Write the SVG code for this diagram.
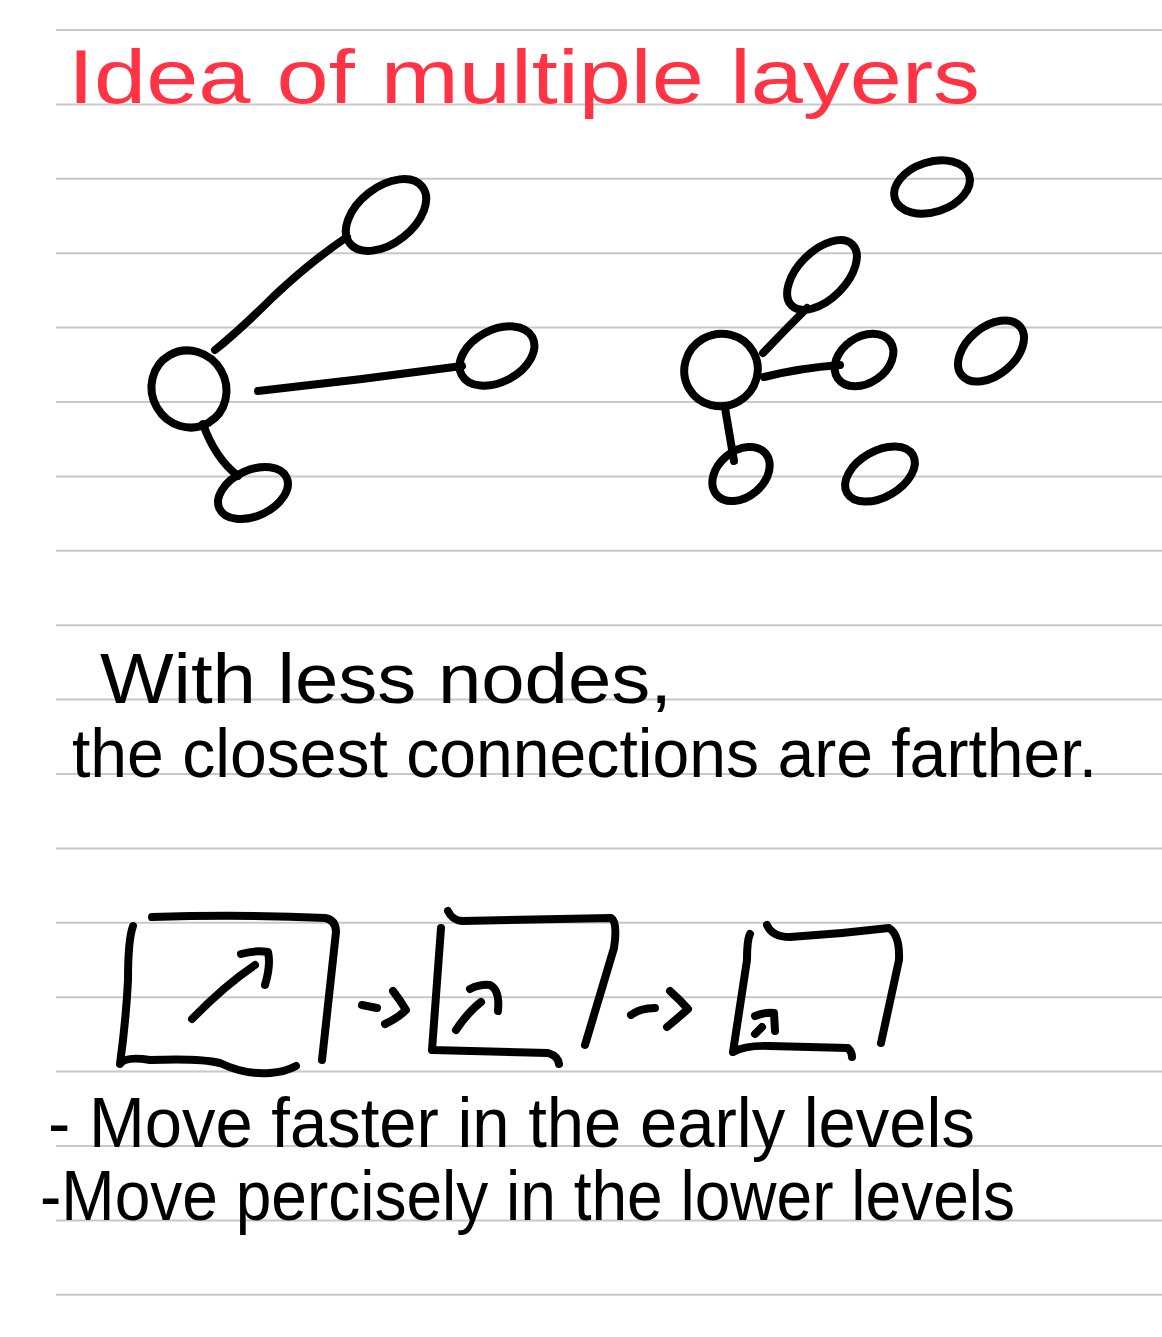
<svg xmlns="http://www.w3.org/2000/svg" width="1162" height="1337" viewBox="0 0 1162 1337">
<style>
.rule{stroke:#c8c8c8;stroke-width:2}
.ink{fill:none;stroke:#000;stroke-width:8;stroke-linecap:round;stroke-linejoin:round}
.txt{font-family:"Liberation Sans","DejaVu Sans",sans-serif;fill:#000}
.title{font-family:"Liberation Sans","DejaVu Sans",sans-serif;fill:#ff3344}
</style>
<rect width="1162" height="1337" fill="#fff"/>
<g id="rules">
<line class="rule" x1="56" y1="30" x2="1162" y2="30"/>
<line class="rule" x1="56" y1="104.4" x2="1162" y2="104.4"/>
<line class="rule" x1="56" y1="178.8" x2="1162" y2="178.8"/>
<line class="rule" x1="56" y1="253.2" x2="1162" y2="253.2"/>
<line class="rule" x1="56" y1="327.6" x2="1162" y2="327.6"/>
<line class="rule" x1="56" y1="402" x2="1162" y2="402"/>
<line class="rule" x1="56" y1="476.4" x2="1162" y2="476.4"/>
<line class="rule" x1="56" y1="550.8" x2="1162" y2="550.8"/>
<line class="rule" x1="56" y1="625.2" x2="1162" y2="625.2"/>
<line class="rule" x1="56" y1="699.6" x2="1162" y2="699.6"/>
<line class="rule" x1="56" y1="774" x2="1162" y2="774"/>
<line class="rule" x1="56" y1="848.4" x2="1162" y2="848.4"/>
<line class="rule" x1="56" y1="922.8" x2="1162" y2="922.8"/>
<line class="rule" x1="56" y1="997.2" x2="1162" y2="997.2"/>
<line class="rule" x1="56" y1="1071.6" x2="1162" y2="1071.6"/>
<line class="rule" x1="56" y1="1146" x2="1162" y2="1146"/>
<line class="rule" x1="56" y1="1220.4" x2="1162" y2="1220.4"/>
<line class="rule" x1="56" y1="1294.8" x2="1162" y2="1294.8"/>
</g>
<g id="title">
<text class="title" x="68" y="103" font-size="76" textLength="912" lengthAdjust="spacingAndGlyphs">Idea of multiple layers</text>
</g>
<g id="left-graph-nodes">
<g id="L-main"><ellipse class="ink" cx="189" cy="389" rx="37" ry="39" transform="rotate(-30 189 389)"/></g>
<g id="L-top"><ellipse class="ink" cx="386" cy="215" rx="46" ry="28" transform="rotate(-38 386 215)"/></g>
<g id="L-right"><ellipse class="ink" cx="497" cy="356" rx="40" ry="26" transform="rotate(-28 497 356)"/></g>
<g id="L-bottom"><ellipse class="ink" cx="253" cy="493" rx="37" ry="23" transform="rotate(-25 253 493)"/></g>
</g>
<g id="right-graph-nodes">
<g id="R-main"><ellipse class="ink" cx="721" cy="370" rx="37" ry="36" transform="rotate(-30 721 370)"/></g>
<g id="R-up"><ellipse class="ink" cx="822" cy="275" rx="43" ry="24" transform="rotate(-45 822 275)"/></g>
<g id="R-top"><ellipse class="ink" cx="932" cy="187" rx="39" ry="25" transform="rotate(-18 932 187)"/></g>
<g id="R-mid"><ellipse class="ink" cx="864" cy="360" rx="32" ry="23" transform="rotate(-35 864 360)"/></g>
<g id="R-far"><ellipse class="ink" cx="991" cy="351" rx="38" ry="24" transform="rotate(-40 991 351)"/></g>
<g id="R-bl"><ellipse class="ink" cx="741" cy="474" rx="32" ry="23" transform="rotate(-40 741 474)"/></g>
<g id="R-bm"><ellipse class="ink" cx="880" cy="474" rx="38" ry="23" transform="rotate(-30 880 474)"/></g>
</g>
<g id="connectors">
<path class="ink" d="M215 350 Q240 330 273 297 Q310 262 347 237"/>
<path class="ink" d="M258 391 Q360 380 462 366"/>
<path class="ink" d="M203 424 Q215 458 238 476"/>
<path class="ink" d="M763 353 Q785 330 807 308"/>
<path class="ink" d="M764 377 Q800 368 840 365"/>
<path class="ink" d="M725 408 L734 461"/>
</g>
<g id="text-1" class="txt">
<text x="100" y="703" font-size="70" textLength="572" lengthAdjust="spacingAndGlyphs">With less nodes,</text>
<text x="72" y="777" font-size="68" textLength="1025" lengthAdjust="spacingAndGlyphs">the closest connections are farther.</text>
</g>
<g id="box-1">
<path class="ink" d="M152 917 Q240 914 325 918 Q336 920 336 932 L322 1060"/>
<path class="ink" d="M133 926 Q128 940 128 980 Q126 1020 120 1064 Q125 1056 150 1060 Q200 1058 220 1063 Q245 1075 270 1073 Q285 1072 296 1066"/>
<path class="ink" d="M192 1019 Q225 985 255 965"/>
<path class="ink" d="M241 954 Q255 950 268 952 Q271 965 265 985"/>
</g>
<g id="arrow-1">
<path class="ink" d="M362 1005 L377 1008"/>
<path class="ink" d="M393 991 Q400 1000 406 1010 Q398 1018 385 1024"/>
</g>
<g id="box-2">
<path class="ink" d="M448 911 Q452 920 462 921 L611 918 Q618 922 614 948 L585 1045"/>
<path class="ink" d="M441 928 L432 1050 L548 1053 Q558 1056 559 1064"/>
<path class="ink" d="M456 1030 Q468 1012 481 1002"/>
<path class="ink" d="M470 989 Q480 984 490 985 Q500 990 498 1011"/>
</g>
<g id="arrow-2">
<path class="ink" d="M631 1015 Q640 1008 655 1008"/>
<path class="ink" d="M670 991 Q680 1000 688 1009 Q678 1018 667 1027"/>
</g>
<g id="box-3">
<path class="ink" d="M767 925 Q772 937 790 937 Q840 934 889 928 Q900 935 899 960 L881 1043"/>
<path class="ink" d="M750 934 Q747 940 747 960 L733 1052 Q745 1045 770 1046 L848 1048 Q852 1052 852 1057"/>
<path class="ink" d="M755 1034 L762 1027"/>
<path class="ink" d="M755 1016 Q765 1012 774 1013 L775 1031"/>
</g>
<g id="text-2" class="txt">
<text x="48" y="1147" font-size="70" textLength="927" lengthAdjust="spacingAndGlyphs">- Move faster in the early levels</text>
<text x="40" y="1220" font-size="70" textLength="975" lengthAdjust="spacingAndGlyphs">-Move percisely in the lower levels</text>
</g>
</svg>
